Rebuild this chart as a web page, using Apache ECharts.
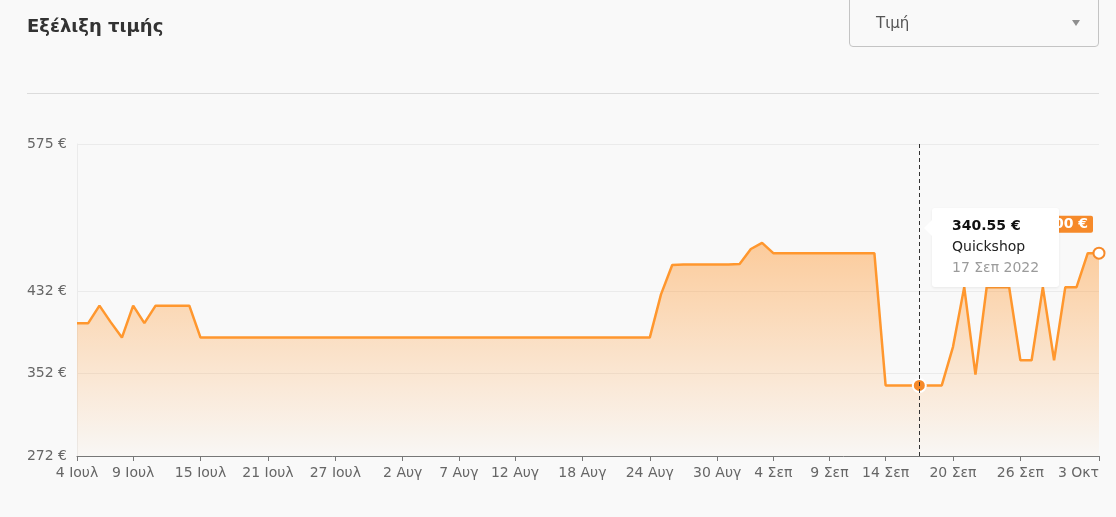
<!DOCTYPE html>
<html>
<head>
<meta charset="utf-8">
<script src="https://cdn.jsdelivr.net/npm/echarts@6/dist/echarts.min.js"></script>
<style>
html,body{margin:0;padding:0;background:#f9f9f9;overflow:hidden;}
#chart{position:absolute;left:0;top:0;width:1116px;height:517px;}
#dd{position:absolute;left:849px;top:-6px;width:250px;height:53px;border:1px solid #c4c4c4;border-radius:4px;box-sizing:border-box;font-family:"DejaVu Sans",sans-serif;}
#dd .t{position:absolute;left:26px;top:18px;font-size:15px;line-height:20px;color:#555;}
#dd .a{position:absolute;left:222px;top:25px;width:0;height:0;border-left:4.5px solid transparent;border-right:4.5px solid transparent;border-top:6.5px solid #8f8f8f;}
</style>
</head>
<body>
<div id="chart"></div>
<div id="dd"><span class="t">Τιμή</span><span class="a"></span></div>
<script>
// ---- data ----
const categories = [
  '4 Ιουλ','5 Ιουλ','6 Ιουλ','7 Ιουλ','8 Ιουλ','9 Ιουλ','10 Ιουλ','11 Ιουλ','12 Ιουλ','13 Ιουλ','14 Ιουλ','15 Ιουλ',
  '16 Ιουλ','17 Ιουλ','18 Ιουλ','19 Ιουλ','20 Ιουλ','21 Ιουλ','22 Ιουλ','23 Ιουλ','24 Ιουλ','25 Ιουλ','26 Ιουλ','27 Ιουλ',
  '28 Ιουλ','29 Ιουλ','30 Ιουλ','31 Ιουλ',
  '1 Αυγ','2 Αυγ','3 Αυγ','4 Αυγ','5 Αυγ','6 Αυγ','7 Αυγ','8 Αυγ','9 Αυγ','10 Αυγ','11 Αυγ','12 Αυγ','13 Αυγ','14 Αυγ',
  '15 Αυγ','16 Αυγ','17 Αυγ','18 Αυγ','19 Αυγ','20 Αυγ','21 Αυγ','22 Αυγ','23 Αυγ','24 Αυγ','25 Αυγ','26 Αυγ','27 Αυγ',
  '28 Αυγ','29 Αυγ','30 Αυγ','31 Αυγ',
  '1 Σεπ','2 Σεπ','3 Σεπ','4 Σεπ','5 Σεπ','6 Σεπ','7 Σεπ','8 Σεπ','9 Σεπ','10 Σεπ','11 Σεπ','12 Σεπ','13 Σεπ','14 Σεπ',
  '15 Σεπ','16 Σεπ','17 Σεπ','18 Σεπ','19 Σεπ','20 Σεπ','21 Σεπ','22 Σεπ','23 Σεπ','24 Σεπ','25 Σεπ','26 Σεπ','27 Σεπ',
  '28 Σεπ','29 Σεπ','30 Σεπ',
  '1 Οκτ','2 Οκτ','3 Οκτ'
];
// one price per day, same order as categories
const julyPrices = [            // 4–31 Jul
  401, 401, 418, 402, 387, 418, 401, 418, 418, 418, 418, 387,
  387, 387, 387, 387, 387, 387, 387, 387, 387, 387, 387, 387,
  387, 387, 387, 387
];
const augustPrices = [          // 1–31 Aug
  387, 387, 387, 387, 387, 387, 387, 387, 387, 387, 387, 387, 387, 387,
  387, 387, 387, 387, 387, 387, 387, 387, 387, 387, 429, 457.5, 458,
  458, 458, 458, 458
];
const septemberPrices = [       // 1–30 Sep
  458.5, 473, 479, 469, 469, 469, 469, 469, 469, 469, 469, 469, 469, 340.55,
  340.55, 340.55, 340.55, 340.55, 340.55, 378, 436, 351, 436, 436, 436, 365, 365,
  436, 365, 436
];
const octoberPrices = [436, 469, 469];  // 1–3 Oct
const xTickLabels = ['4 Ιουλ','9 Ιουλ','15 Ιουλ','21 Ιουλ','27 Ιουλ','2 Αυγ','7 Αυγ','12 Αυγ','18 Αυγ','24 Αυγ','30 Αυγ','4 Σεπ','9 Σεπ','14 Σεπ','20 Σεπ','26 Σεπ','3 Οκτ'];
const yTickValues = [272, 352, 432, 575];
const yMin = 272, yMax = 575;
const tooltipStore = 'Quickshop';
const tooltipYear = '2022';
const tooltipDay = '17 Σεπ';

const prices = julyPrices.concat(augustPrices, septemberPrices, octoberPrices);

const FONT = '"DejaVu Sans", sans-serif';
const ORANGE = '#f68a2a';

const chart = echarts.init(document.getElementById('chart'), null, {renderer: 'canvas'});
const showTick = (i, v) => xTickLabels.indexOf(categories[i]) >= 0;
const lastIdx = prices.length - 1;

const option = {
  backgroundColor: '#f9f9f9',
  animation: false,
  title: {
    text: 'Εξέλιξη τιμής', left: 27, top: 18, padding: 0,
    textStyle: {fontFamily: FONT, fontSize: 18, fontWeight: 'bold', color: '#333'}
  },
  graphic: [{
    type: 'line', silent: true,
    shape: {x1: 27, y1: 93.5, x2: 1099, y2: 93.5},
    style: {stroke: '#dcdcdc', lineWidth: 1}
  }],
  grid: {left: 77, right: 17, top: 144, bottom: 61, outerBoundsMode: 'none', containLabel: false},
  tooltip: {
    trigger: 'axis',
    alwaysShowContent: true,
    transitionDuration: 0,
    padding: 0,
    borderWidth: 0,
    backgroundColor: 'transparent',
    extraCssText: 'box-shadow:none;',
    axisPointer: {type: 'line', animation: false, lineStyle: {color: '#333', type: [4, 3], width: 1}},
    position: function (point) { return [point[0] + 13, 208]; },
    formatter: function (params) {
      const p = params[0];
      return '<div style="position:relative;width:127px;height:79px;box-sizing:border-box;padding:7px 0 0 20px;background:#fff;border-radius:3px;box-shadow:0 1px 3px rgba(0,0,0,0.07);font-family:\'DejaVu Sans\',sans-serif;">' +
        '<div style="position:absolute;left:-8px;top:12px;width:0;height:0;border-top:8px solid transparent;border-bottom:8px solid transparent;border-right:8px solid #fff;"></div>' +
        '<div style="font-weight:bold;font-size:14px;line-height:21px;color:#111;">' + p.value.toFixed(2) + ' €</div>' +
        '<div style="font-size:14px;line-height:21px;color:#222;">' + tooltipStore + '</div>' +
        '<div style="font-size:14px;line-height:20px;color:#9b9b9b;">' + p.name + ' ' + tooltipYear + '</div>' +
        '</div>';
    }
  },
  xAxis: {
    type: 'category', data: categories, boundaryGap: false,
    axisLine: {lineStyle: {color: '#777', width: 1}},
    axisTick: {interval: showTick, length: 5, lineStyle: {color: '#777'}},
    axisLabel: {interval: showTick, color: '#666', fontSize: 14, margin: 10, fontFamily: FONT, alignMaxLabel: 'right', hideOverlap: false},
    splitLine: {show: false}
  },
  yAxis: {
    type: 'value', min: yMin, max: yMax,
    axisLine: {show: true, lineStyle: {color: '#ebebeb'}},
    axisTick: {show: false, customValues: yTickValues},
    axisLabel: {customValues: yTickValues, formatter: v => v + ' €', color: '#666', fontSize: 14, margin: 10, fontFamily: FONT},
    splitLine: {show: true, lineStyle: {color: '#ebebeb'}}
  },
  series: [{
    type: 'line', data: prices,
    showSymbol: false, symbol: 'circle', symbolSize: 13,
    lineStyle: {color: ORANGE, width: 2.5},
    itemStyle: {color: ORANGE, borderColor: '#fff', borderWidth: 2},
    emphasis: {scale: false},
    areaStyle: {
      color: new echarts.graphic.LinearGradient(0, 0, 0, 1, [
        {offset: 0, color: 'rgba(245,137,42,0.66)'},
        {offset: 1, color: 'rgba(245,137,42,0.03)'}
      ])
    },
    markPoint: {
      silent: true,
      symbol: 'circle', symbolSize: 11,
      itemStyle: {color: '#fff', borderColor: ORANGE, borderWidth: 2},
      label: {
        show: true, position: 'top', align: 'right', offset: [-6, -9],
        formatter: p => p.value.toFixed(2) + ' €',
        backgroundColor: ORANGE, color: '#fff', fontWeight: 'bold', fontSize: 14,
        fontFamily: FONT, padding: [2, 5, 1, 5], borderRadius: 2
      },
      data: [{coord: [categories[lastIdx], prices[lastIdx]], value: prices[lastIdx]}]
    }
  }]
};
chart.setOption(option);
chart.dispatchAction({type: 'showTip', seriesIndex: 0, dataIndex: categories.indexOf(tooltipDay)});
</script>
</body>
</html>
